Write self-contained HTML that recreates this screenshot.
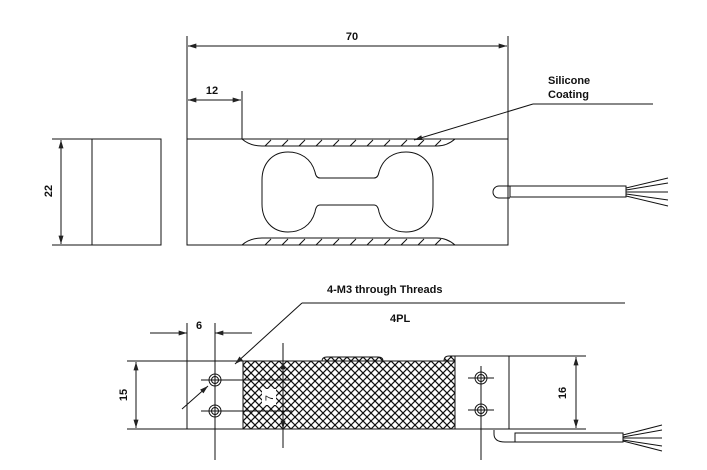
<!DOCTYPE html>
<html><head><meta charset="utf-8"><style>
html,body{margin:0;padding:0;background:#fff;width:707px;height:470px;overflow:hidden}
text{font-family:"Liberation Sans",Arial,sans-serif;font-weight:bold;font-size:11px;fill:#111}
</style></head><body>
<svg width="707" height="470" viewBox="0 0 707 470" xmlns="http://www.w3.org/2000/svg">
<defs>
<clipPath id="c1"><rect x="243" y="361" width="212" height="68"/><path d="M322 361 Q322 357 327 357 L378 357 Q383 357 383 361Z"/><path d="M444 361 Q444 356 449 356 L500 356 Q504 356 504 361Z"/></clipPath>
<marker id="a" viewBox="0 0 10 6" refX="10" refY="3" markerWidth="14" markerHeight="5" markerUnits="userSpaceOnUse" orient="auto-start-reverse"><path d="M0 0L10 3L0 6Z" fill="#222"/></marker>
</defs>
<g stroke="#111" stroke-width="1" fill="none">
<rect x="92" y="139" width="69" height="106"/>
<line x1="52" y1="139" x2="92" y2="139"/><line x1="52" y1="245" x2="92" y2="245"/>
<line x1="61" y1="140" x2="61" y2="244" marker-start="url(#a)" marker-end="url(#a)"/>
<rect x="187" y="139" width="321" height="106"/>
<line x1="187" y1="36" x2="187" y2="139"/><line x1="508" y1="36" x2="508" y2="139"/>
<line x1="188" y1="46" x2="507" y2="46" marker-start="url(#a)" marker-end="url(#a)"/>
<line x1="242" y1="91" x2="242" y2="139"/>
<line x1="188" y1="100" x2="241" y2="100" marker-start="url(#a)" marker-end="url(#a)"/>
<path d="M242 139 Q250 146 262 146 L437 146 Q447 146 455 139"/>
<path d="M242 245 Q250 238 262 238 L437 238 Q447 238 455 245"/>
<path d="M265 146l6-6M282 146l6-6M299 146l6-6M316 146l6-6M333 146l6-6M350 146l6-6M367 146l6-6M384 146l6-6M401 146l6-6M418 146l6-6M435 146l6-6"/>
<path d="M265 245l6-6M282 245l6-6M299 245l6-6M316 245l6-6M333 245l6-6M350 245l6-6M367 245l6-6M384 245l6-6M401 245l6-6M418 245l6-6M435 245l6-6"/>
<path d="M320 178 L374 178 Q378 178 379 172 C383 158 394 152 406 152 C422 152 433 164 433 180 L433 204 C433 220 422 232 406 232 C394 232 383 226 379 212 Q378 205 374 205 L320 205 Q316 205 315 212 C311 226 300 232 288 232 C272 232 262 220 262 204 L262 180 C262 164 272 152 288 152 C300 152 311 158 315 172 Q316 178 320 178Z"/>
<path d="M510 186 L499 186 A6 6 0 0 0 499 198 L510 198"/>
<rect x="510" y="186" width="116" height="11"/>
<path d="M626 188L668 178M626 190L668 183M626 192L668 192M626 194L668 200M626 196L668 206"/>
<line x1="533" y1="104" x2="653" y2="104"/>
<line x1="533" y1="104" x2="414" y2="140" marker-end="url(#a)"/>
<g clip-path="url(#c1)" stroke-width="1.2">
<path d="M171 429l80-80m-72 80l80-80m-72 80l80-80m-72 80l80-80m-72 80l80-80m-72 80l80-80m-72 80l80-80m-72 80l80-80m-72 80l80-80m-72 80l80-80m-72 80l80-80m-72 80l80-80m-72 80l80-80m-72 80l80-80m-72 80l80-80m-72 80l80-80m-72 80l80-80m-72 80l80-80m-72 80l80-80m-72 80l80-80m-72 80l80-80m-72 80l80-80m-72 80l80-80m-72 80l80-80m-72 80l80-80m-72 80l80-80m-72 80l80-80m-72 80l80-80m-72 80l80-80m-72 80l80-80m-72 80l80-80m-72 80l80-80m-72 80l80-80m-72 80l80-80m-72 80l80-80m-72 80l80-80m-72 80l80-80m-72 80l80-80m-72 80l80-80m-72 80l80-80m-72 80l80-80m-72 80l80-80"/>
<path d="M171 349l80 80m-72-80l80 80m-72-80l80 80m-72-80l80 80m-72-80l80 80m-72-80l80 80m-72-80l80 80m-72-80l80 80m-72-80l80 80m-72-80l80 80m-72-80l80 80m-72-80l80 80m-72-80l80 80m-72-80l80 80m-72-80l80 80m-72-80l80 80m-72-80l80 80m-72-80l80 80m-72-80l80 80m-72-80l80 80m-72-80l80 80m-72-80l80 80m-72-80l80 80m-72-80l80 80m-72-80l80 80m-72-80l80 80m-72-80l80 80m-72-80l80 80m-72-80l80 80m-72-80l80 80m-72-80l80 80m-72-80l80 80m-72-80l80 80m-72-80l80 80m-72-80l80 80m-72-80l80 80m-72-80l80 80m-72-80l80 80m-72-80l80 80m-72-80l80 80m-72-80l80 80m-72-80l80 80"/>
</g>
<path d="M322 361 Q322 357 327 357 L378 357 Q383 357 383 361"/>
<rect x="243" y="361" width="212" height="68"/>
<rect x="455" y="356" width="54" height="73" fill="#fff"/>
<path d="M444 361 Q444 356 449 356 L455 356"/>
<line x1="127" y1="361" x2="243" y2="361"/><line x1="127" y1="429" x2="243" y2="429"/>
<line x1="187" y1="323" x2="187" y2="429"/>
<line x1="215" y1="323" x2="215" y2="460"/>
<line x1="481" y1="366" x2="481" y2="460"/>
<line x1="509" y1="356" x2="586" y2="356"/><line x1="509" y1="429" x2="586" y2="429"/>
<line x1="136" y1="362" x2="136" y2="428" marker-start="url(#a)" marker-end="url(#a)"/>
<line x1="576" y1="357" x2="576" y2="428" marker-start="url(#a)" marker-end="url(#a)"/>
<line x1="150" y1="333" x2="187" y2="333" marker-end="url(#a)"/>
<line x1="252" y1="333" x2="215" y2="333" marker-end="url(#a)"/>
<line x1="201" y1="380" x2="292" y2="380"/><line x1="201" y1="411" x2="292" y2="411"/>
<line x1="283" y1="343" x2="283" y2="448"/>
<line x1="283" y1="368" x2="283" y2="361" marker-end="url(#a)"/>
<line x1="283" y1="422" x2="283" y2="429" marker-end="url(#a)"/>
<line x1="468" y1="378" x2="494" y2="378"/><line x1="468" y1="410" x2="494" y2="410"/>
<circle cx="215" cy="380" r="6"/><circle cx="215" cy="380" r="3.5"/>
<circle cx="215" cy="411" r="6"/><circle cx="215" cy="411" r="3.5"/>
<circle cx="481" cy="378" r="6"/><circle cx="481" cy="378" r="3.5"/>
<circle cx="481" cy="410" r="6"/><circle cx="481" cy="410" r="3.5"/>
<line x1="302" y1="303" x2="625" y2="303"/>
<line x1="302" y1="303" x2="235" y2="364" marker-end="url(#a)"/>
<line x1="182" y1="409" x2="208" y2="386" marker-end="url(#a)"/>
<path d="M494 430 L494 434 Q494 442 505 442 L515 442"/>
<rect x="515" y="433" width="108" height="9"/>
<path d="M623 435L662 425M623 437L662 430M623 438L662 438M623 440L662 446M623 441L662 451"/>
</g>
<rect x="262" y="389" width="14" height="16" fill="#fff"/>
<text x="352" y="40" text-anchor="middle">70</text>
<text x="212" y="94" text-anchor="middle">12</text>
<text x="548" y="84">Silicone</text>
<text x="548" y="98">Coating</text>
<text transform="translate(52,191) rotate(-90)" text-anchor="middle">22</text>
<text x="327" y="293">4-M3 through Threads</text>
<text x="390" y="322">4PL</text>
<text x="199" y="329" text-anchor="middle">6</text>
<text transform="translate(127,395) rotate(-90)" text-anchor="middle">15</text>
<text transform="translate(566,393) rotate(-90)" text-anchor="middle">16</text>
<text transform="translate(273,398) rotate(-90)" text-anchor="middle" style="font-weight:normal">7</text>
</svg>
</body></html>
